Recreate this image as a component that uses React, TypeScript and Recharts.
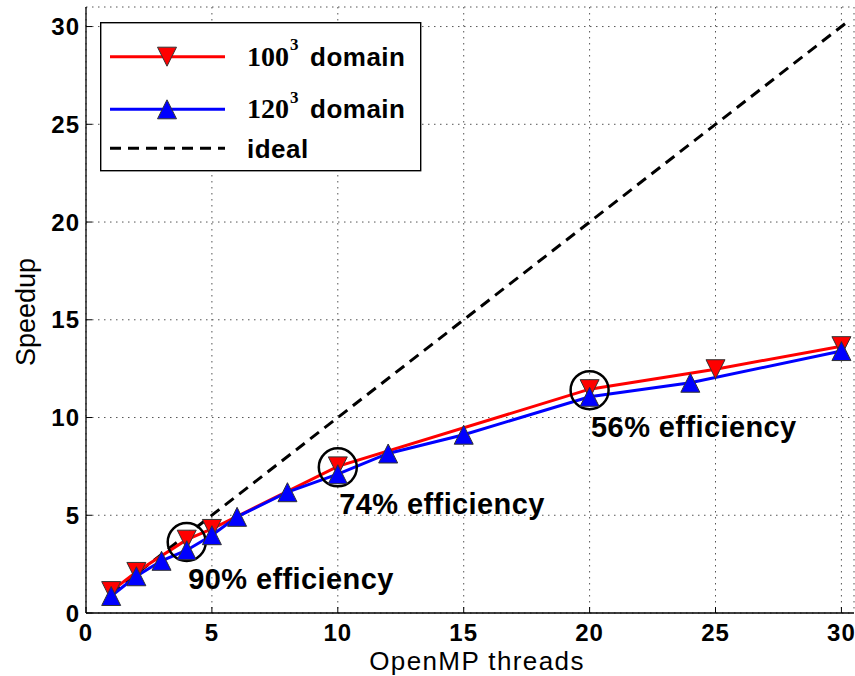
import React from "react"
import { LineChart, Line, XAxis, YAxis, CartesianGrid, ReferenceDot, Legend } from "recharts"

// 100^3 domain (red, down triangles)
const threads100 = [1, 2, 4, 5, 10, 20, 25, 30]
const speedup100 = [1.12, 2.1, 3.75, 4.3, 7.5, 11.45, 12.47, 13.65]

// 120^3 domain (blue, up triangles)
const threads120 = [1, 2, 3, 4, 5, 6, 8, 10, 12, 15, 20, 24, 30]
const speedup120 = [0.87, 1.88, 2.67, 3.21, 3.98, 4.92, 6.18, 7.1, 8.16, 9.12, 11.06, 11.78, 13.4]

// ideal speedup
const threadsIdeal = [1, 30.3]
const speedupIdeal = [1, 30.3]

// circled points + efficiency notes
const noteThreads = [4, 10, 20]
const noteSpeedup = [3.63, 7.45, 11.4]
const noteLabels = ["90% efficiency", "74% efficiency", "56% efficiency"]

const xTicks = [0, 5, 10, 15, 20, 25, 30]
const yTicks = [0, 5, 10, 15, 20, 25, 30]

const data100 = threads100.map((x, i) => ({ x, y: speedup100[i] }))
const data120 = threads120.map((x, i) => ({ x, y: speedup120[i] }))
const dataIdeal = threadsIdeal.map((x, i) => ({ x, y: speedupIdeal[i] }))

const SANS = "'Liberation Sans', Arial, Helvetica, sans-serif"
const SERIF = "'Liberation Serif', 'Times New Roman', serif"
const RED = "#ff0000"
const BLUE = "#0000ff"

const tri = (cx: number, cy: number, down: boolean, fill: string, key?: string) => {
    const s = 9.5
    const d = down
        ? `M${cx - s},${cy - s}L${cx + s},${cy - s}L${cx},${cy + s}Z`
        : `M${cx - s},${cy + s}L${cx + s},${cy + s}L${cx},${cy - s}Z`
    return <path key={key} d={d} fill={fill} stroke="#333" strokeWidth={1} />
}

const DownDot = (p: any) => (p.cx == null ? <g key={p.index} /> : tri(p.cx, p.cy, true, RED, `d${p.index}`))
const UpDot = (p: any) => (p.cx == null ? <g key={p.index} /> : tri(p.cx, p.cy, false, BLUE, `u${p.index}`))

const tickStyle = { fontSize: 24, fontWeight: 700, fill: "#000", fontFamily: SANS, letterSpacing: 1 }

function LegendBox() {
    const rows = [34.7, 87.3, 126.3]
    const labels = ["100", "120"]
    return (
        <svg width={322} height={150} style={{ display: "block" }}>
            <rect x={0.7} y={0.7} width={320} height={148} fill="#fff" stroke="#000" strokeWidth={1.4} />
            {labels.map((lab, i) => (
                <g key={lab}>
                    <line x1={10} x2={125} y1={rows[i]} y2={rows[i]} stroke={i === 0 ? RED : BLUE} strokeWidth={3} />
                    {tri(67, rows[i], i === 0, i === 0 ? RED : BLUE)}
                    <text x={147} y={rows[i] + 9} fontFamily={SERIF} fontWeight={700} fontSize={28}>{lab}</text>
                    <text x={190} y={rows[i] - 6.5} fontFamily={SERIF} fontWeight={700} fontSize={17}>3</text>
                    <text x={210} y={rows[i] + 9} fontFamily={SANS} fontWeight={700} fontSize={26} letterSpacing={0.5}>domain</text>
                </g>
            ))}
            <line x1={10} x2={125} y1={rows[2]} y2={rows[2]} stroke="#000" strokeWidth={3} strokeDasharray="11 7" />
            <text x={147} y={rows[2] + 10} fontFamily={SANS} fontWeight={700} fontSize={26} letterSpacing={0.5}>ideal</text>
        </svg>
    )
}

export default function App() {
    return (
        <div style={{ position: "absolute", left: 0, top: 0, width: 855, height: 676, background: "#fff" }}>
            <LineChart width={855} height={676} margin={{ top: 7, right: 1, left: 0, bottom: 0 }}>
                <CartesianGrid stroke="#555" strokeDasharray="1.5 4.5" />
                <XAxis
                    type="number"
                    dataKey="x"
                    domain={[0, 30.5]}
                    ticks={xTicks}
                    allowDataOverflow
                    height={63}
                    axisLine={{ stroke: "#000", strokeWidth: 1.3 }}
                    tickLine={{ stroke: "#000", strokeWidth: 1 }}
                    tickSize={-6}
                    tickMargin={16.5}
                    tick={tickStyle}
                    label={() => (
                        <text x={477} y={670} textAnchor="middle" fontFamily={SANS} fontSize={26} letterSpacing={1.4} fill="#000">
                            OpenMP threads
                        </text>
                    )}
                />
                <XAxis
                    xAxisId="top"
                    orientation="top"
                    type="number"
                    domain={[0, 30.5]}
                    ticks={xTicks}
                    allowDataOverflow
                    height={0}
                    axisLine={{ stroke: "#000", strokeWidth: 1.3 }}
                    tickLine={{ stroke: "#000", strokeWidth: 1 }}
                    tickSize={-6}
                    tick={() => <g />}
                />
                <YAxis
                    type="number"
                    domain={[0, 31]}
                    ticks={yTicks}
                    allowDataOverflow
                    width={86}
                    axisLine={{ stroke: "#000", strokeWidth: 1.3 }}
                    tickLine={{ stroke: "#000", strokeWidth: 1 }}
                    tickSize={-6}
                    tickMargin={12}
                    tick={tickStyle}
                    label={() => (
                        <text x={35} y={312} transform="rotate(-90 35 312)" textAnchor="middle" fontFamily={SANS} fontSize={27} fill="#000">
                            Speedup
                        </text>
                    )}
                />
                <Line data={dataIdeal} dataKey="y" stroke="#000" strokeWidth={3} strokeDasharray="11 7" dot={false} isAnimationActive={false} />
                <Line data={data100} dataKey="y" stroke={RED} strokeWidth={3} dot={DownDot} activeDot={false} isAnimationActive={false} />
                <Line data={data120} dataKey="y" stroke={BLUE} strokeWidth={3} dot={UpDot} activeDot={false} isAnimationActive={false} />
                {noteThreads.map((t, i) => (
                    <ReferenceDot
                        key={t}
                        x={t}
                        y={noteSpeedup[i]}
                        r={19}
                        fill="none"
                        stroke="#000"
                        strokeWidth={2.5}
                        label={(p: any) => {
                            const vb = p.viewBox || {}
                            const cx = vb.x + (vb.width || 0) / 2
                            const cy = vb.y + (vb.height || 0) / 2
                            return (
                                <text x={cx + 1.5} y={cy + 47} fontFamily={SANS} fontWeight={700} fontSize={29} letterSpacing={0.4} fill="#000">
                                    {noteLabels[i]}
                                </text>
                            )
                        }}
                    />
                ))}
                <Legend
                    layout="vertical"
                    align="center"
                    verticalAlign="middle"
                    wrapperStyle={{ position: "absolute", left: 100, top: 22, width: 322, height: 150 }}
                    content={() => <LegendBox />}
                />
            </LineChart>
        </div>
    )
}
